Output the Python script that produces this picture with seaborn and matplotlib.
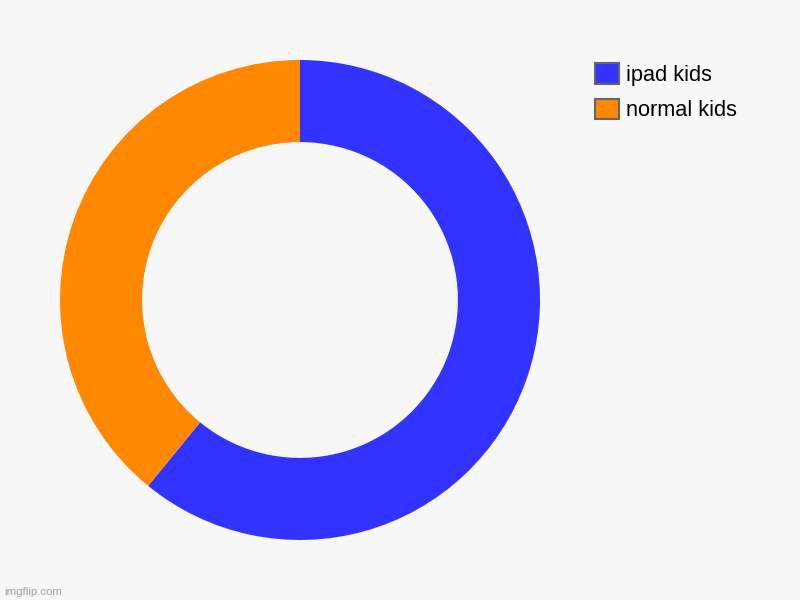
import matplotlib
matplotlib.use('Agg')
import matplotlib.pyplot as plt
import seaborn as sns
from matplotlib.patches import Patch

# data
labels = ['ipad kids', 'normal kids']
values = [60.9, 39.1]
colors = ['#3333FF', '#FF8800']

sns.set_style('white')
plt.rcParams['font.family'] = ['Liberation Sans', 'DejaVu Sans']

fig = plt.figure(figsize=(8, 6), dpi=100, facecolor='#F7F7F7')
ax = fig.add_axes([0.075, 0.1, 0.6, 0.8])
ax.set_facecolor('#F7F7F7')

ax.pie(values, colors=colors, startangle=90, counterclock=False, radius=1,
       wedgeprops={'width': 0.342, 'linewidth': 0})
ax.set_xlim(-1, 1)
ax.set_ylim(-1, 1)
ax.set_aspect('equal')
ax.axis('off')

handles = [Patch(facecolor=c, edgecolor='#666666', linewidth=1.5, label=l)
           for c, l in zip(colors, labels)]
leg = fig.legend(handles=handles, loc='upper left', bbox_to_anchor=(0.7325, 0.9095),
                 frameon=False, fontsize=15.7, handlelength=1.1, handleheight=1.1,
                 handletextpad=0.35, labelspacing=0.58, borderaxespad=0)
for t in leg.get_texts():
    t.set_color('black')

fig.text(0.005, 0.008, 'imgflip.com', color='#A0A0A0', fontsize=8.2)

fig.savefig('out.png', dpi=100, facecolor='#F7F7F7')
